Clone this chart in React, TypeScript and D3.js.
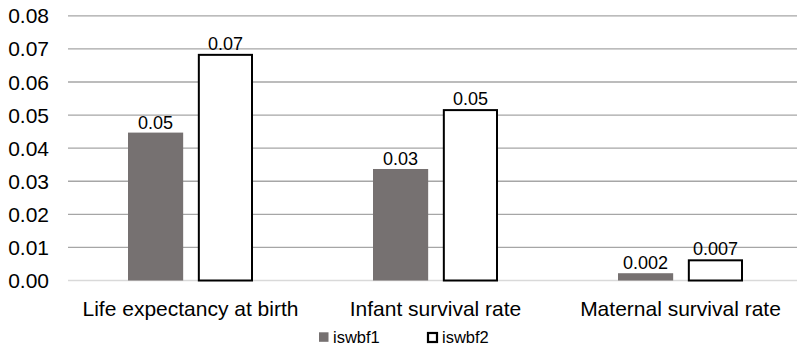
import React from "react";
import * as d3 from "d3";

const categories = ["Life expectancy at birth", "Infant survival rate", "Maternal survival rate"];
const seriesNames = ["iswbf1", "iswbf2"];
const iswbf1 = [0.0447, 0.0337, 0.0022];
const iswbf2 = [0.0685, 0.0518, 0.0064];
const iswbf1Labels = ["0.05", "0.03", "0.002"];
const iswbf2Labels = ["0.07", "0.05", "0.007"];
const yTicks = [0, 0.01, 0.02, 0.03, 0.04, 0.05, 0.06, 0.07, 0.08];

const W = 797;
const H = 347;
const FONT = "'Liberation Sans', Arial, sans-serif";

export default function App() {
  const x0 = d3.scaleBand<string>().domain(categories).range([68, 803]).padding(0);
  const x1 = d3.scaleBand<string>().domain(seriesNames).range([0, 125]).paddingInner(0.21).paddingOuter(0);
  const y = d3.scaleLinear().domain([0, 0.08]).range([280.5, 15.8]);
  const groupOffset = (x0.bandwidth() - 125) / 2;
  const series = [
    { name: seriesNames[0], values: iswbf1, labels: iswbf1Labels, fill: "#767171", stroke: "none" },
    { name: seriesNames[1], values: iswbf2, labels: iswbf2Labels, fill: "#ffffff", stroke: "#000000" },
  ];
  return (
    <svg width={W} height={H} style={{ position: "absolute", left: 0, top: 0, background: "#fff" }} fontFamily={FONT}>
      {yTicks.map((t) => (
        <g key={t}>
          <line
            x1={68}
            x2={W}
            y1={y(t)}
            y2={y(t)}
            stroke={t === 0 ? "#d9d9d9" : "#a6a6a6"}
            strokeWidth={1.3}
          />
          <text x={49} y={y(t)} dy="0.36em" textAnchor="end" fontSize={21} fill="#000">
            {t.toFixed(2)}
          </text>
        </g>
      ))}
      {categories.map((c, i) => {
        const gx = (x0(c) as number) + groupOffset;
        return (
          <g key={c}>
            {series.map((s) => {
              const bx = gx + (x1(s.name) as number);
              const bw = x1.bandwidth();
              const top = y(s.values[i]);
              const h = y(0) - top;
              return (
                <g key={s.name}>
                  <rect
                    x={s.stroke === "none" ? bx : bx + 1}
                    y={s.stroke === "none" ? top : top + 1}
                    width={s.stroke === "none" ? bw : bw - 2}
                    height={s.stroke === "none" ? h : h - 1}
                    fill={s.fill}
                    stroke={s.stroke}
                    strokeWidth={2}
                  />
                  <text x={bx + bw / 2} y={top - 4} textAnchor="middle" fontSize={18} fill="#000">
                    {s.labels[i]}
                  </text>
                </g>
              );
            })}
            <text x={(x0(c) as number) + x0.bandwidth() / 2} y={315.5} textAnchor="middle" fontSize={21} fill="#000">
              {c}
            </text>
          </g>
        );
      })}
      <g>
        <rect x={319} y={332.3} width={9.5} height={9.5} fill="#767171" />
        <text x={333} y={343} fontSize={16.5} fill="#000">{seriesNames[0]}</text>
        <rect x={428} y={333} width={9} height={9} fill="#fff" stroke="#000" strokeWidth={2.2} />
        <text x={442} y={343} fontSize={16.5} fill="#000">{seriesNames[1]}</text>
      </g>
    </svg>
  );
}
